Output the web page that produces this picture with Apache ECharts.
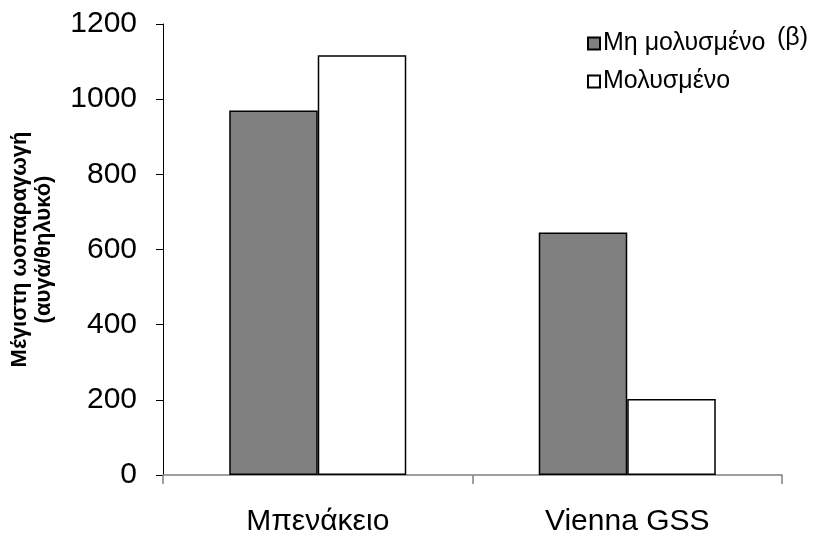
<!DOCTYPE html>
<html>
<head>
<meta charset="utf-8">
<script src="https://cdn.jsdelivr.net/npm/echarts@6/dist/echarts.min.js"></script>
<style>
  html, body { margin: 0; padding: 0; background: #fff; }
  #main { width: 836px; height: 538px; }
</style>
</head>
<body>
<div id="main"></div>
<script>
const categories = ['Μπενάκειο', 'Vienna GSS'];
const uninfected = [970, 645];
const infected = [1117, 202];
const seriesNames = ['Μη μολυσμένο', 'Μολυσμένο'];

const chartDom = document.getElementById('main');
const myChart = echarts.init(chartDom, null, { renderer: 'canvas' });
const font = 'Liberation Sans, Arial, sans-serif';

const option = {
    animation: false,
    backgroundColor: '#fff',
    textStyle: { fontFamily: font },
    grid: { left: 163, right: 54, top: 24, bottom: 63, containLabel: false, outerBoundsMode: 'none' },
    legend: {
        orient: 'vertical',
        left: 582,
        top: 26,
        itemWidth: 12,
        itemHeight: 12,
        itemGap: 13,
        icon: 'rect',
        textStyle: { fontFamily: font, fontSize: 25, color: '#000', padding: [0, 0, 0, -2] },
        data: seriesNames
    },
    graphic: [{
        type: 'text',
        left: 777,
        top: 26,
        style: { text: '(β)', font: '25px ' + font, fill: '#000' }
    }],
    xAxis: {
        type: 'category',
        data: categories,
        axisLine: { lineStyle: { color: '#808080', width: 1.5 } },
        axisTick: { show: true, length: 9, lineStyle: { color: '#808080', width: 1.5 } },
        axisLabel: { color: '#000', fontSize: 30, margin: 32, fontFamily: font }
    },
    yAxis: {
        type: 'value',
        min: 0,
        max: 1200,
        interval: 200,
        name: 'Μέγιστη ωοπαραγωγή\n(αυγά/θηλυκό)',
        nameLocation: 'center',
        nameGap: 107,
        nameTextStyle: { fontSize: 22, fontWeight: 'bold', color: '#000', fontFamily: font, lineHeight: 24 },
        axisLine: { show: true, lineStyle: { color: '#000', width: 1 } },
        axisTick: { show: true, length: 7, lineStyle: { color: '#000' } },
        axisLabel: { color: '#000', fontSize: 30, margin: 26, fontFamily: font, formatter: v => String(v) },
        splitLine: { show: false }
    },
    series: [
        {
            name: seriesNames[0],
            type: 'bar',
            data: uninfected,
            barWidth: '28.6%',
            barGap: '0%',
            itemStyle: { color: '#808080', borderColor: '#000', borderWidth: 1.5 }
        },
        {
            name: seriesNames[1],
            type: 'bar',
            data: infected,
            barWidth: '28.6%',
            barGap: '0%',
            itemStyle: { color: '#fff', borderColor: '#000', borderWidth: 1.5 }
        }
    ]
};

myChart.setOption(option);
</script>
</body>
</html>
